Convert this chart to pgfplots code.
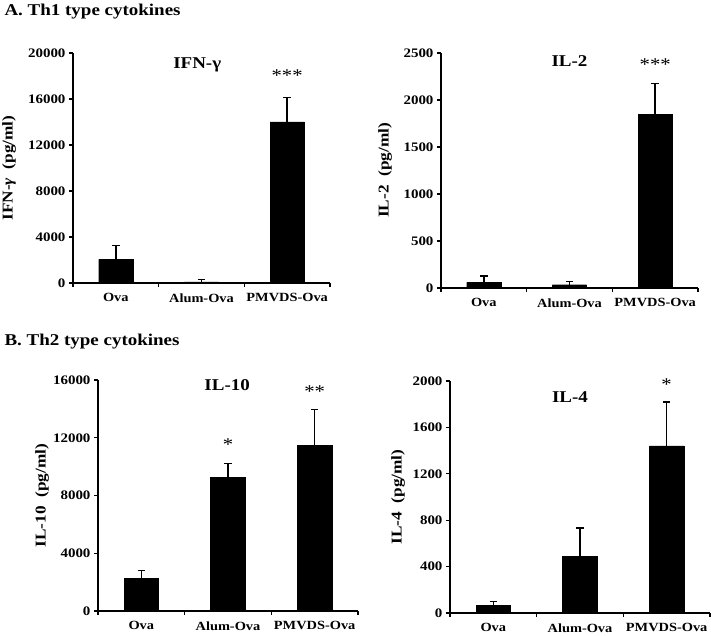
\documentclass[border=0pt]{standalone}
\usepackage{pgfplots}
\pgfplotsset{compat=1.18}
\usepackage{fontspec}
\setmainfont[FakeStretch=1.15]{Liberation Serif}

\pgfplotsset{
 cyto/.style={
  scale only axis,
  width=257pt, height=230pt,
  axis lines=left,
  axis line style={line width=1.3pt, -},
  xmin=-0.5, xmax=2.5, ymin=0,
  xtick={-0.5,0.5,1.5,2.5}, xticklabels={},
  extra x ticks={0,1,2},
  extra x tick labels={Ova,Alum-Ova,PMVDS-Ova},
  extra x tick style={major tick length=0pt,
     tick label style={font=\fontsize{12.5}{14}\selectfont\bfseries, yshift=-7pt}},
  tick align=outside,
  major tick length=4pt,
  tick style={line width=1.2pt, black},
  scaled y ticks=false,
  /pgf/number format/assume math mode=true,
  /pgf/number format/1000 sep={},
  yticklabel style={font=\fontsize{13}{14}\selectfont\bfseries},
  ylabel style={font=\fontsize{15}{17}\selectfont\bfseries, anchor=center},
  clip=false,
 },
 cbar/.style={ybar, bar width=0.4, fill=black, draw=black,
   error bars/.cd, y dir=plus, y explicit,
   error bar style={line width=1.5pt, black},
   error mark options={rotate=90, mark size=3.8pt, line width=1.5pt, black}},
}
\newcommand{\ptitle}{\fontsize{16.5}{18}\selectfont\bfseries}
\newcommand{\pstar}{\fontsize{18}{20}\selectfont}

\begin{document}
\begin{tikzpicture}
\path[use as bounding box] (0,0) rectangle (711pt,-636pt);

\node[anchor=west, font=\fontsize{16.5}{18}\selectfont\bfseries] at (1pt,-12pt) {A. Th1 type cytokines};
\node[anchor=west, font=\fontsize{16.5}{18}\selectfont\bfseries] at (1pt,-342pt) {B. Th2 type cytokines};

% IFN-gamma
\begin{axis}[cyto, at={(73pt,-53pt)}, anchor=north west,
  width=257pt, height=230pt, ymax=20000, ytick={0,4000,8000,12000,16000,20000},
  ylabel={IFN-\textit{γ}\ \ (pg/ml)},
  ylabel style={at={(axis description cs:-0.249,0.5)}}]
\addplot[cbar] coordinates {(0,2050) +- (0,1230) (1,100) +- (0,200) (2,14000) +- (0,2150)};
\node[font=\ptitle] at (axis cs:0.95,18950) {IFN-γ};
\node[font=\pstar, anchor=base, yshift=-10pt] at (axis cs:2,18350) {***};
\end{axis}

% IL-2
\begin{axis}[cyto, at={(441pt,-53pt)}, anchor=north west,
  width=257pt, height=235pt, ymax=2500, ytick={0,500,1000,1500,2000,2500},
  ylabel={IL-2\ \ (pg/ml)},
  ylabel style={at={(axis description cs:-0.218,0.5)}}]
\addplot[cbar] coordinates {(0,60) +- (0,65) (1,35) +- (0,35) (2,1850) +- (0,325)};
\node[font=\ptitle] at (axis cs:1.0,2415) {IL-2};
\node[font=\pstar, anchor=base, yshift=-10pt] at (axis cs:2,2415) {***};
\end{axis}

% IL-10
\begin{axis}[cyto, at={(98pt,-380pt)}, anchor=north west,
  width=260pt, height=231pt, ymax=16000, ytick={0,4000,8000,12000,16000},
  ylabel={IL-10\ \ (pg/ml)},
  ylabel style={at={(axis description cs:-0.215,0.5)}}]
\addplot[cbar] coordinates {(0,2250) +- (0,570) (1,9250) +- (0,970) (2,11450) +- (0,2500)};
\node[font=\ptitle] at (axis cs:0.99,15650) {IL-10};
\node[font=\pstar, anchor=base, yshift=-10pt] at (axis cs:1,11840) {*};
\node[font=\pstar, anchor=base, yshift=-10pt] at (axis cs:2,15450) {**};
\end{axis}

% IL-4
\begin{axis}[cyto, at={(450pt,-381pt)}, anchor=north west,
  width=260pt, height=232pt, ymax=2000, ytick={0,400,800,1200,1600,2000},
  ylabel={IL-4\ \ (pg/ml)},
  ylabel style={at={(axis description cs:-0.2,0.5)}}]
\addplot[cbar] coordinates {(0,66) +- (0,34) (1,488) +- (0,245) (2,1440) +- (0,380)};
\node[font=\ptitle] at (axis cs:0.885,1862) {IL-4};
\node[font=\pstar, anchor=base, yshift=-10pt] at (axis cs:2,2005) {*};
\end{axis}
\end{tikzpicture}
\end{document}
